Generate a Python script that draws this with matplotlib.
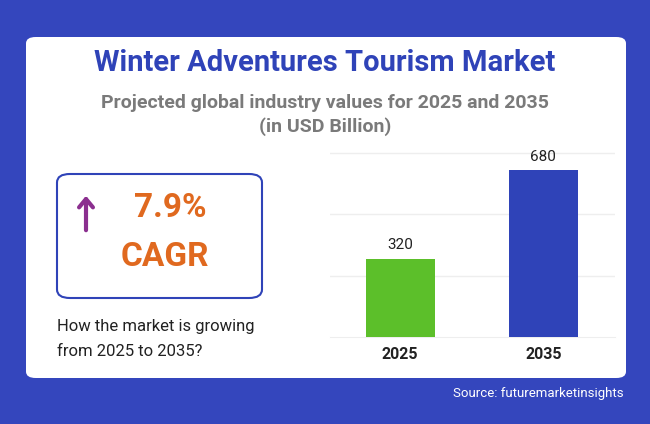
import matplotlib.pyplot as plt
from matplotlib.patches import FancyBboxPatch

years = ["2025", "2035"]
values = [320, 680]
bar_colors = ["#5cbf2a", "#2f43b8"]
grid_ticks = [250, 500, 750]

W, H = 650, 424
fig = plt.figure(figsize=(6.5, 4.24), dpi=100)
fig.patch.set_facecolor("#3446bd")

def fx(x):
    return x / W

def fy(y):
    return 1 - y / H

# white card
card = FancyBboxPatch((fx(26), fy(378)), fx(600), 341 / H, boxstyle="round,pad=0,rounding_size=0.015",
                      transform=fig.transFigure, facecolor="white", edgecolor="none", zorder=0)
fig.patches.append(card)

fig.text(fx(325), fy(63), "Winter Adventures Tourism Market", ha="center", va="center",
         fontsize=21, fontweight="bold", color="#2f43b8", family="Roboto")
fig.text(fx(325), fy(103), "Projected global industry values for 2025 and 2035", ha="center", va="center",
         fontsize=14, fontweight="bold", color="#7a7a7a", family="Roboto")
fig.text(fx(325), fy(127), "(in USD Billion)", ha="center", va="center",
         fontsize=14, fontweight="bold", color="#7a7a7a", family="Roboto")

# CAGR box
box = FancyBboxPatch((fx(57), fy(298)), fx(205), 124 / H, boxstyle="round,pad=0,rounding_size=0.02",
                     transform=fig.transFigure, facecolor="white", edgecolor="#2f43b8", linewidth=1.5, zorder=0)
fig.patches.append(box)
fig.add_artist(plt.Annotation("", xy=(fx(86), fy(193)), xytext=(fx(86), fy(233)),
                              xycoords="figure fraction", textcoords="figure fraction",
                              arrowprops=dict(arrowstyle="->,head_width=0.5,head_length=0.6",
                                              color="#8b2f8f", lw=3)))
fig.text(fx(170), fy(208), "7.9%", ha="center", va="center", fontsize=24, fontweight="bold",
         color="#e0691f", family="Roboto")
fig.text(fx(165), fy(257), "CAGR", ha="center", va="center", fontsize=24, fontweight="bold",
         color="#e0691f", family="Roboto")
fig.text(fx(57), fy(327), "How the market is growing", ha="left", va="center", fontsize=12,
         color="#222222", family="Roboto")
fig.text(fx(57), fy(352), "from 2025 to 2035?", ha="left", va="center", fontsize=12,
         color="#222222", family="Roboto")

fig.text(fx(624), fy(394), "Source: futuremarketinsights", ha="right", va="center", fontsize=9.5,
         color="white", family="Roboto")

# bar chart
ax = fig.add_axes([fx(330), fy(337), fx(285), 185 / H])
ax.set_zorder(2)
ax.set_facecolor("none")
x = range(len(years))
ax.bar(x, values, width=0.48, color=bar_colors, zorder=3)
for i, v in zip(x, values):
    ax.text(i, v + 25, str(v), ha="center", va="bottom", fontsize=11, color="#222222", family="Roboto")
ax.set_xlim(-0.49, 1.5)
ax.set_ylim(0, 755)
ax.set_yticks(grid_ticks)
ax.yaxis.grid(True, color="#eeeeee", linewidth=1, zorder=0)
ax.tick_params(left=False, labelleft=False, bottom=False)
ax.set_xticks(list(x))
ax.set_xticklabels(years, fontsize=11.5, fontweight="bold", family="Roboto", color="#222222")
for s in ax.spines.values():
    s.set_visible(False)
ax.spines["bottom"].set_visible(True)
ax.spines["bottom"].set_color("#eeeeee")

fig.savefig("out.png", dpi=100, facecolor=fig.get_facecolor())
